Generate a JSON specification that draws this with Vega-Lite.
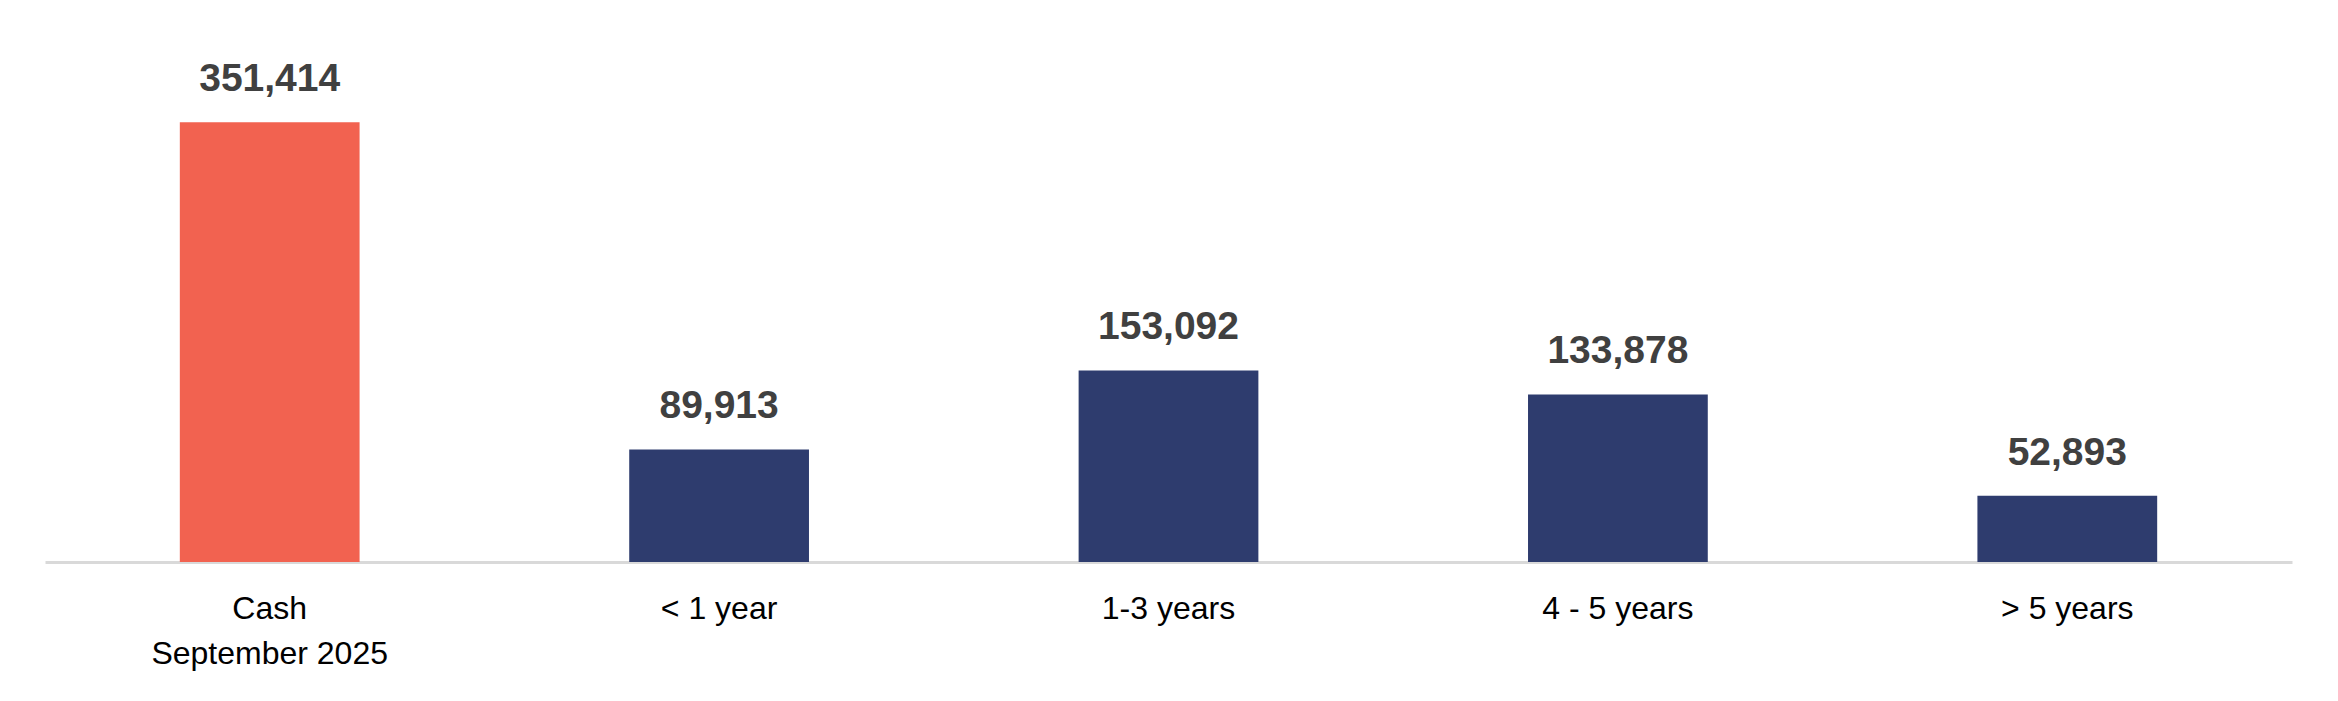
{
  "$schema": "https://vega.github.io/schema/vega-lite/v6.json",
  "width": 2247,
  "height": 562,
  "autosize": {"type": "none"},
  "padding": {"left": 45, "top": 0, "right": 46, "bottom": 139},
  "background": "white",
  "config": {"view": {"stroke": null}, "font": "Liberation Sans"},
  "data": {
    "values": [
      {"category": "Cash|September 2025", "value": 351414, "kind": "cash"},
      {"category": "< 1 year", "value": 89913, "kind": "maturity"},
      {"category": "1-3 years", "value": 153092, "kind": "maturity"},
      {"category": "4 - 5 years", "value": 133878, "kind": "maturity"},
      {"category": "> 5 years", "value": 52893, "kind": "maturity"}
    ]
  },
  "encoding": {
    "x": {
      "field": "category",
      "type": "nominal",
      "sort": null,
      "scale": {"paddingInner": 0.6, "paddingOuter": 0.3},
      "axis": {
        "title": null,
        "labelAngle": 0,
        "labelExpr": "split(datum.label, '|')",
        "labelFontSize": 32,
        "labelColor": "#000000",
        "labelLineHeight": 45,
        "labelPadding": 31,
        "labelLimit": 0,
        "ticks": false,
        "domainColor": "#D9D9D9",
        "domainWidth": 3
      }
    },
    "y": {
      "field": "value",
      "type": "quantitative",
      "scale": {"domain": [0, 449000]},
      "axis": null
    }
  },
  "layer": [
    {
      "mark": {"type": "bar"},
      "encoding": {
        "color": {
          "field": "kind",
          "type": "nominal",
          "scale": {"domain": ["cash", "maturity"], "range": ["#F26250", "#2E3C6E"]},
          "legend": null
        }
      }
    },
    {
      "mark": {"type": "text", "baseline": "bottom", "dy": -23, "fontSize": 39, "fontWeight": "bold", "color": "#404040"},
      "encoding": {
        "text": {"field": "value", "type": "quantitative", "format": ",.0f"}
      }
    }
  ]
}
